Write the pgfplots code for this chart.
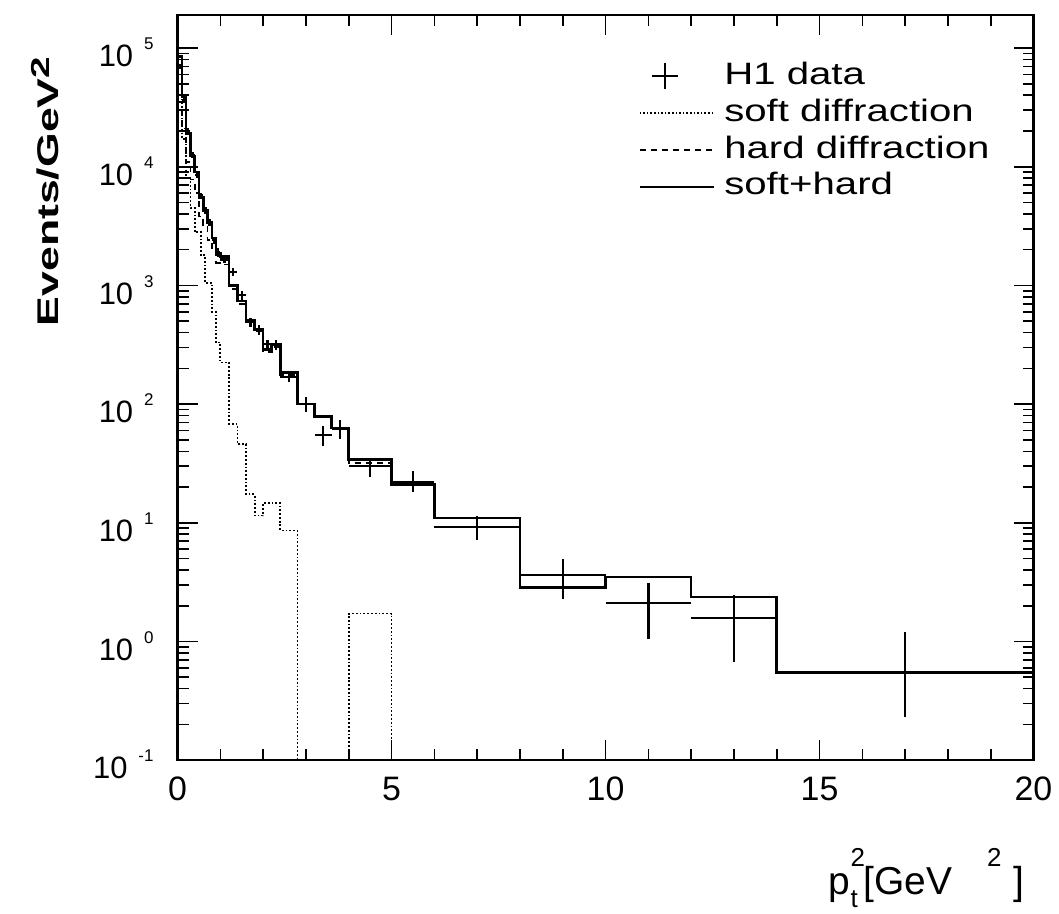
\documentclass[border=0pt]{standalone}
\usepackage{fontspec}
\setmainfont{Liberation Sans}
\newfontfamily\legfont[FakeStretch=1.3]{Liberation Sans}
\usepackage{pgfplots}
\usepackage{pgfplotstable}
\pgfplotsset{compat=1.18}

\newcommand\ex[1]{10\hspace{5.5pt}\raisebox{8.5pt}{\fontsize{8.5}{8.5}\selectfont #1}}
\pgfplotsset{
  lineleg/.style={legend image code/.code={\draw[##1] (0pt,0pt)--(37pt,0pt);}},
  crossleg/.style={legend image code/.code={\draw[line width=0.9pt] (6pt,0pt)--(19pt,0pt) (12.5pt,-6.5pt)--(12.5pt,6.5pt);}},
}

\pgfplotstableread{
x y
0    85000
0.1  39000
0.2  19000
0.3  12300
0.4  9000
0.5  5500
0.6  4300
0.7  3400
0.8  2500
0.9  1850
1.0  1750
1.2  1000
1.4  740
1.6  510
1.8  425
2.0  290
2.2  320
2.4  185
2.8  100
3.2  79
3.6  63
4    34
5    21
6    11
8    2.85
10   3.5
12   2.37
14   0.55
20   0.55
}\solidtab

\pgfplotstableread{
x y
0    35000
0.1  21000
0.2  11000
0.3  7800
0.4  6000
0.5  3800
0.6  3250
0.7  2400
0.8  2000
0.9  1550
1.0  1500
1.2  930
1.4  694
1.6  493
1.8  413
2.0  275
2.2  305
2.4  176
2.8  100
3.2  79
3.6  63
4    32
5    21
6    11
8    2.85
10   3.5
12   2.37
14   0.55
20   0.55
}\hardtab

\pgfplotstableread{
x y
0    40000
0.1  17000
0.2  8000
0.3  4500
0.4  2800
0.55 1800
0.65 1050
0.8  600
0.9  330
1.0  224
1.2  68
1.4  46
1.6  17.4
1.8  11.5
2.0  14.7
2.4  8.6
2.8  0.001
4.0  1.72
5.0  0.001
20   0.001
}\softtab

\pgfplotstableread{
x    ex   y      ep     em
0.05 0.05 70000  3000   3000
0.15 0.05 36000  1800   1800
0.25 0.05 20000  1000   1000
0.35 0.05 12500  700    700
0.45 0.05 8500   500    500
0.55 0.05 5700   350    350
0.65 0.05 4300   280    280
0.75 0.05 3400   230    230
0.85 0.05 2400   180    180
0.95 0.05 1900   150    150
1.1  0.1  1650   100    100
1.3  0.1  1300   90     90
1.5  0.1  830    70     70
1.7  0.1  490    45     45
1.9  0.1  420    40     40
2.1  0.1  320    30     30
2.3  0.1  315    30     30
2.6  0.2  170    15     15
3.0  0.2  100    15     15
3.4  0.2  55     11     11
3.8  0.2  62     12     11
4.5  0.5  30     5      5.5
5.5  0.5  22     5.5    4
7    1    9.2    2.3    2.1
9    1    3.65   1.35   1.38
11   1    2.11   1.02   1.06
13   1    1.58   0.87   0.905
17   3    0.55   0.64   0.317
}\datatab

\begin{document}
\begin{tikzpicture}
\begin{axis}[name=ax,
  scale only axis, width=429pt, height=373.5pt,
  xmin=0, xmax=20, ymode=log, ymin=0.1, ymax=1.9e5,
  axis line style={line width=1.1pt},
  every tick/.style={black, line width=0.8pt},
  tick align=inside, major tick length=10pt, minor tick length=5.5pt,
  xtick={0,5,10,15,20}, minor x tick num=4,
  xticklabels={0,5,10,15,20},
  ytick={0.1,1,10,100,1000,10000,100000},
  yticklabels={\ex{-1},\ex{0},\ex{1},\ex{2},\ex{3},\ex{4},\ex{5}},
  minor ytick={0.2,0.3,0.4,0.5,0.6,0.7,0.8,0.9,2,3,4,5,6,7,8,9,20,30,40,50,60,70,80,90,200,300,400,500,600,700,800,900,2000,3000,4000,5000,6000,7000,8000,9000,20000,30000,40000,50000,60000,70000,80000,90000},
  yticklabel style={font=\fontsize{15.5}{15.5}\selectfont, xshift=-8.5pt, yshift=-2.3pt},
  xticklabel style={font=\fontsize{17}{17}\selectfont, yshift=-5pt},
  xlabel={p\rlap{\raisebox{0.72em}{\fontsize{13}{13}\selectfont 2}}\raisebox{-0.32em}{\fontsize{13}{13}\selectfont t}\hspace{0.15em}[GeV\hspace{0.9em}\raisebox{0.72em}{\fontsize{13}{13}\selectfont 2}\hspace{0.3em}]},
  xlabel style={font=\fontsize{19.5}{19.5}\selectfont, at={(axis description cs:0.875,-0.158)}, anchor=center},
  ylabel={\resizebox{135pt}{\height}{\fontsize{15}{15}\selectfont\bfseries Events/GeV\raisebox{0.3em}{\fontsize{13}{13}\selectfont 2}}},
  ylabel style={at={(axis description cs:-0.1375,0.763)}, anchor=south, inner sep=0pt},
  legend style={at={(axis description cs:0.5385,0.937)}, anchor=north west, draw=none, fill=none,
    font=\legfont\fontsize{15.5}{15.5}\selectfont, row sep=4.5pt, inner sep=0pt,
    nodes={text height=11pt, text depth=3pt, inner sep=0pt},
    /tikz/every odd column/.append style={column sep=5pt}},
  legend cell align=left,
]
\addlegendimage{crossleg}
\addlegendimage{densely dotted, line width=0.8pt, lineleg}
\addlegendimage{dash pattern=on 3pt off 2.5pt, line width=0.8pt, lineleg}
\addlegendimage{solid, line width=0.8pt, lineleg}
\legend{H1 data, soft diffraction, hard diffraction, soft+hard}

\addplot[forget plot, const plot, black, densely dotted, line width=0.9pt] table {\softtab};
\addplot[forget plot, const plot, black, dash pattern=on 3pt off 2.5pt, line width=0.9pt] table {\hardtab};
\addplot[forget plot, const plot, black, line width=1.3pt] table {\solidtab};
\addplot[forget plot, draw=none, mark=none,
  error bars/.cd, x dir=both, x explicit, y dir=both, y explicit,
  error mark=none, error bar style={black, solid, line width=1.2pt}]
  table[x=x, y=y, x error=ex, y error plus=ep, y error minus=em] {\datatab};
\end{axis}
\path ([xshift=-89pt,yshift=-75pt]ax.south west) rectangle ([xshift=11.5pt,yshift=7.5pt]ax.north east);
\end{tikzpicture}
\end{document}
